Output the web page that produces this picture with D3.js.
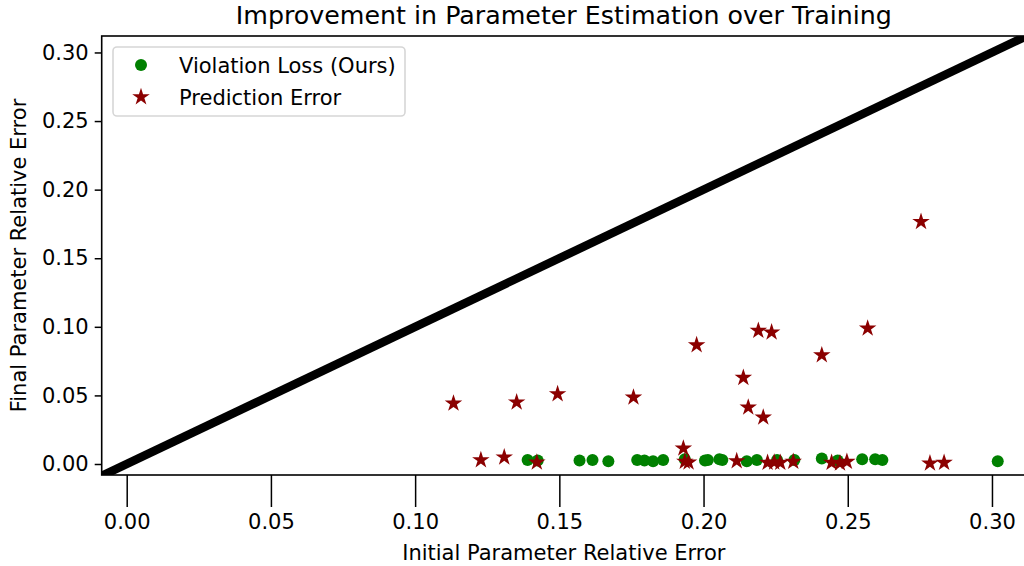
<!DOCTYPE html>
<html>
<head>
<meta charset="utf-8">
<script src="https://cdn.jsdelivr.net/npm/d3@7"></script>
<style>
  html, body { margin: 0; padding: 0; background: #fff; }
  svg { display: block; font-family: "DejaVu Sans", sans-serif; }
</style>
</head>
<body>
<svg id="chart" width="1024" height="566"></svg>
<script>
// Violation-loss runs: initial vs final relative parameter error
const violationInitial = [0.139, 0.1425, 0.157, 0.1615, 0.167, 0.177, 0.1795, 0.1825, 0.186, 0.1935, 0.2005, 0.2015,
  0.2055, 0.2065, 0.215, 0.2185, 0.2255, 0.2315, 0.241, 0.2465, 0.255, 0.2595, 0.262, 0.302];
const violationFinal = [0.003, 0.0025, 0.0025, 0.003, 0.002, 0.003, 0.0025, 0.002, 0.003, 0.0035, 0.0025, 0.003,
  0.0035, 0.003, 0.002, 0.003, 0.003, 0.003, 0.004, 0.0025, 0.0035, 0.0035, 0.003, 0.002];

// Prediction-error runs
const predictionInitial = [0.1133, 0.1228, 0.1309, 0.1352, 0.1422, 0.1494, 0.1757, 0.193, 0.1935, 0.1948, 0.1976,
  0.2115, 0.2138, 0.2155, 0.219, 0.2207, 0.2222, 0.2236, 0.2245, 0.2266, 0.2311, 0.241, 0.2444, 0.2473, 0.2497,
  0.2569, 0.2754, 0.2785, 0.2834];
const predictionFinal = [0.0442, 0.0029, 0.0049, 0.045, 0.0012, 0.051, 0.0486, 0.0114, 0.0018, 0.0012, 0.0867,
  0.0022, 0.0629, 0.0413, 0.0972, 0.034, 0.001, 0.096, 0.0012, 0.001, 0.0017, 0.0794, 0.001, 0.0005, 0.0017,
  0.0989, 0.1766, 0.0005, 0.001];

const xTicks = [0.00, 0.05, 0.10, 0.15, 0.20, 0.25, 0.30];
const yTicks = [0.00, 0.05, 0.10, 0.15, 0.20, 0.25, 0.30];
const seriesNames = ["Violation Loss (Ours)", "Prediction Error"];
const titleText = "Improvement in Parameter Estimation over Training";
const xLabel = "Initial Parameter Relative Error";
const yLabel = "Final Parameter Relative Error";

const svg = d3.select("#chart");
const plotLeft = 101.7, plotRight = 1026, plotTop = 36, plotBottom = 475;
const fontSize = 21;

const x = d3.scaleLinear().domain([-0.00867, 0.3118]).range([plotLeft, plotRight]);
const y = d3.scaleLinear().domain([-0.00802, 0.3120]).range([plotBottom, plotTop]);

const defs = svg.append("defs");
defs.append("clipPath").attr("id", "plotClip")
  .append("rect").attr("x", plotLeft).attr("y", plotTop)
  .attr("width", plotRight - plotLeft).attr("height", plotBottom - plotTop);

const plot = svg.append("g").attr("clip-path", "url(#plotClip)");

// identity line y = x
const diag = [-0.02, 0.33];
plot.append("line")
  .attr("x1", x(diag[0])).attr("y1", y(diag[0]))
  .attr("x2", x(diag[1])).attr("y2", y(diag[1]))
  .attr("stroke", "#000").attr("stroke-width", 8.5);

const violation = violationInitial.map((v, i) => [v, violationFinal[i]]);
const prediction = predictionInitial.map((v, i) => [v, predictionFinal[i]]);

plot.append("g").selectAll("circle").data(violation).join("circle")
  .attr("cx", d => x(d[0])).attr("cy", d => y(d[1])).attr("r", 6)
  .attr("fill", "green");

const star = d3.symbol().type(d3.symbolStar).size(95);
plot.append("g").selectAll("path").data(prediction).join("path")
  .attr("d", star)
  .attr("transform", d => `translate(${x(d[0])},${y(d[1])})`)
  .attr("fill", "darkred");

// axes
const xAxis = svg.append("g").attr("transform", `translate(0,${plotBottom})`)
  .call(d3.axisBottom(x).tickValues(xTicks).tickFormat(d3.format(".2f")).tickSizeInner(32).tickSizeOuter(0).tickPadding(7));
const yAxis = svg.append("g").attr("transform", `translate(${plotLeft},0)`)
  .call(d3.axisLeft(y).tickValues(yTicks).tickFormat(d3.format(".2f")).tickSizeInner(7).tickSizeOuter(0).tickPadding(6));
[xAxis, yAxis].forEach(g => {
  g.select(".domain").remove();
  g.selectAll(".tick line").attr("stroke", "#000").attr("stroke-width", 1.5);
  g.selectAll(".tick text").attr("fill", "#000").attr("font-size", fontSize).attr("font-family", "DejaVu Sans");
});

// spines
svg.append("rect").attr("x", plotLeft).attr("y", plotTop)
  .attr("width", plotRight - plotLeft).attr("height", plotBottom - plotTop)
  .attr("fill", "none").attr("stroke", "#000").attr("stroke-width", 1.6);

// title and labels
svg.append("text").attr("x", (plotLeft + plotRight) / 2).attr("y", 24).attr("text-anchor", "middle")
  .attr("font-size", 25.3).attr("fill", "#000").text(titleText);
svg.append("text").attr("x", (plotLeft + plotRight) / 2).attr("y", 560).attr("text-anchor", "middle")
  .attr("font-size", fontSize).attr("fill", "#000").text(xLabel);
svg.append("text").attr("transform", `translate(26,${(plotTop + plotBottom) / 2}) rotate(-90)`).attr("text-anchor", "middle")
  .attr("font-size", fontSize).attr("fill", "#000").text(yLabel);

// legend
const legend = svg.append("g");
legend.append("rect").attr("x", 113).attr("y", 47).attr("width", 292).attr("height", 69).attr("rx", 4)
  .attr("fill", "#fff").attr("fill-opacity", 0.8).attr("stroke", "#d6d6d6").attr("stroke-width", 1.6);
legend.append("circle").attr("cx", 141).attr("cy", 65).attr("r", 6).attr("fill", "green");
legend.append("path").attr("d", star).attr("transform", "translate(141,97)").attr("fill", "darkred");
legend.selectAll("text.entry").data(seriesNames).join("text").attr("class", "entry")
  .attr("x", 179).attr("y", (d, i) => 65 + i * 32).attr("dy", "0.36em")
  .attr("font-size", fontSize).attr("fill", "#000").text(d => d);
</script>
</body>
</html>
